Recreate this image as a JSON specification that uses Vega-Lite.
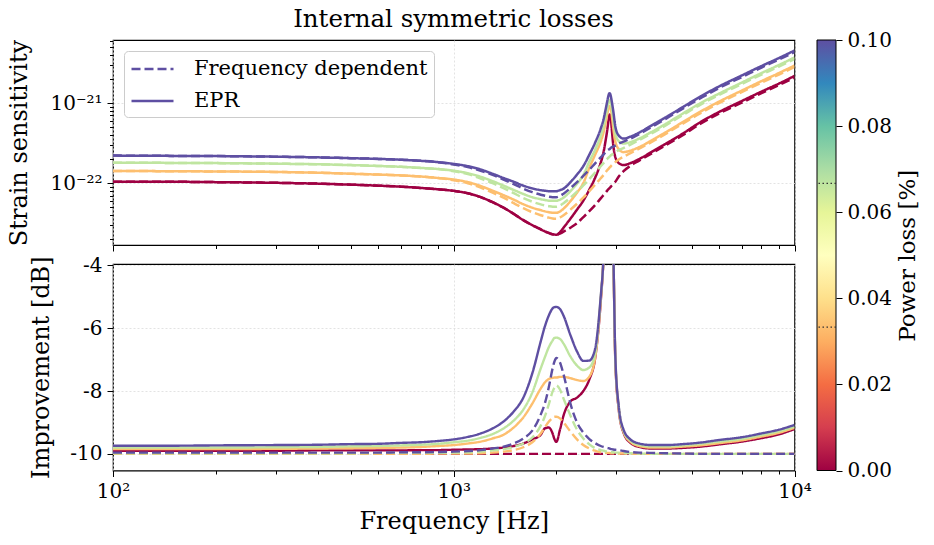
{
"$schema": "https://vega.github.io/schema/vega-lite/v6.json",
"background": "white",
"padding": {"left": 7, "top": 6, "right": 2, "bottom": 2},
"title": {"text": "Internal symmetric losses", "fontSize": 24.5, "font": "DejaVu Serif", "fontWeight": "normal", "anchor": "middle", "offset": -2, "dx": -10, "color": "#000"},
"config": {
  "font": "DejaVu Serif",
  "view": {"stroke": "#000", "strokeWidth": 1.2},
  "axis": {"labelFont": "DejaVu Serif", "titleFont": "DejaVu Serif", "labelFontSize": 20, "titleFontSize": 24, "titleFontWeight": "normal", "labelColor": "#000", "titleColor": "#000", "tickColor": "#000", "tickWidth": 1, "domain": false, "gridColor": "#dcdcdc", "gridDash": [2, 2], "gridWidth": 0.8, "labelFlush": false, "labelOverlap": false, "labelPadding": 5}
},
"datasets": {
"strain": [
{"f":100,"p":0,"FD":1.04e-22,"EPR":1.04e-22},{"f":150,"p":0,"FD":1.04e-22,"EPR":1.04e-22},{"f":200,"p":0,"FD":1.03e-22,"EPR":1.03e-22},{"f":300,"p":0,"FD":1.01e-22,"EPR":1.01e-22},{"f":400,"p":0,"FD":9.86e-23,"EPR":9.86e-23},{"f":500,"p":0,"FD":9.58e-23,"EPR":9.58e-23},{"f":600,"p":0,"FD":9.31e-23,"EPR":9.31e-23},{"f":700,"p":0,"FD":9.04e-23,"EPR":9.04e-23},{"f":800,"p":0,"FD":8.71e-23,"EPR":8.71e-23},{"f":900,"p":0,"FD":8.39e-23,"EPR":8.39e-23},
{"f":1000,"p":0,"FD":8.01e-23,"EPR":8.01e-23},{"f":1100,"p":0,"FD":7.48e-23,"EPR":7.48e-23},{"f":1200,"p":0,"FD":6.68e-23,"EPR":6.68e-23},{"f":1300,"p":0,"FD":5.79e-23,"EPR":5.79e-23},{"f":1400,"p":0,"FD":4.94e-23,"EPR":4.94e-23},{"f":1500,"p":0,"FD":4.13e-23,"EPR":4.13e-23},{"f":1600,"p":0,"FD":3.45e-23,"EPR":3.45e-23},{"f":1700,"p":0,"FD":2.99e-23,"EPR":2.99e-23},{"f":1800,"p":0,"FD":2.65e-23,"EPR":2.65e-23},{"f":1850,"p":0,"FD":2.50e-23,"EPR":2.50e-23},
{"f":1900,"p":0,"FD":2.39e-23,"EPR":2.39e-23},{"f":1950,"p":0,"FD":2.30e-23,"EPR":2.30e-23},{"f":1975,"p":0,"FD":2.28e-23,"EPR":2.28e-23},{"f":2000,"p":0,"FD":2.27e-23,"EPR":2.27e-23},{"f":2050,"p":0,"FD":2.34e-23,"EPR":2.44e-23},{"f":2100,"p":0,"FD":2.48e-23,"EPR":2.78e-23},{"f":2200,"p":0,"FD":2.78e-23,"EPR":3.60e-23},{"f":2300,"p":0,"FD":3.16e-23,"EPR":4.67e-23},{"f":2400,"p":0,"FD":3.76e-23,"EPR":6.04e-23},{"f":2500,"p":0,"FD":4.47e-23,"EPR":8.29e-23},
{"f":2600,"p":0,"FD":5.34e-23,"EPR":1.17e-22},{"f":2700,"p":0,"FD":6.46e-23,"EPR":1.80e-22},{"f":2750,"p":0,"FD":7.08e-23,"EPR":2.41e-22},{"f":2790,"p":0,"FD":7.61e-23,"EPR":3.40e-22},{"f":2820,"p":0,"FD":8.06e-23,"EPR":4.53e-22},{"f":2845,"p":0,"FD":8.41e-23,"EPR":6.04e-22},{"f":2865,"p":0,"FD":8.66e-23,"EPR":7.18e-22},{"f":2885,"p":0,"FD":8.96e-23,"EPR":6.98e-22},{"f":2910,"p":0,"FD":9.36e-23,"EPR":4.66e-22},{"f":2940,"p":0,"FD":9.80e-23,"EPR":2.94e-22},
{"f":2980,"p":0,"FD":1.04e-22,"EPR":2.11e-22},{"f":3050,"p":0,"FD":1.21e-22,"EPR":1.78e-22},{"f":3150,"p":0,"FD":1.41e-22,"EPR":1.68e-22},{"f":3300,"p":0,"FD":1.65e-22,"EPR":1.78e-22},{"f":3500,"p":0,"FD":1.91e-22,"EPR":2.00e-22},{"f":3800,"p":0,"FD":2.34e-22,"EPR":2.44e-22},{"f":4200,"p":0,"FD":2.99e-22,"EPR":3.12e-22},{"f":4700,"p":0,"FD":3.98e-22,"EPR":4.16e-22},{"f":5300,"p":0,"FD":5.54e-22,"EPR":5.79e-22},{"f":6000,"p":0,"FD":7.39e-22,"EPR":7.72e-22},
{"f":7000,"p":0,"FD":1.01e-21,"EPR":1.06e-21},{"f":8000,"p":0,"FD":1.33e-21,"EPR":1.39e-21},{"f":9000,"p":0,"FD":1.68e-21,"EPR":1.75e-21},{"f":10000,"p":0,"FD":2.08e-21,"EPR":2.18e-21},
{"f":100,"p":0.0333,"FD":1.42e-22,"EPR":1.42e-22},{"f":150,"p":0.0333,"FD":1.41e-22,"EPR":1.41e-22},{"f":200,"p":0.0333,"FD":1.40e-22,"EPR":1.40e-22},{"f":300,"p":0.0333,"FD":1.38e-22,"EPR":1.38e-22},{"f":400,"p":0.0333,"FD":1.35e-22,"EPR":1.35e-22},{"f":500,"p":0.0333,"FD":1.31e-22,"EPR":1.31e-22},{"f":600,"p":0.0333,"FD":1.28e-22,"EPR":1.28e-22},{"f":700,"p":0.0333,"FD":1.25e-22,"EPR":1.25e-22},{"f":800,"p":0.0333,"FD":1.21e-22,"EPR":1.21e-22},{"f":900,"p":0.0333,"FD":1.16e-22,"EPR":1.16e-22},
{"f":1000,"p":0.0333,"FD":1.09e-22,"EPR":1.11e-22},{"f":1100,"p":0.0333,"FD":9.97e-23,"EPR":1.03e-22},{"f":1200,"p":0.0333,"FD":8.79e-23,"EPR":9.20e-23},{"f":1300,"p":0.0333,"FD":7.61e-23,"EPR":8.06e-23},{"f":1400,"p":0.0333,"FD":6.59e-23,"EPR":7.08e-23},{"f":1500,"p":0.0333,"FD":5.62e-23,"EPR":6.22e-23},{"f":1600,"p":0.0333,"FD":4.87e-23,"EPR":5.46e-23},{"f":1700,"p":0.0333,"FD":4.34e-23,"EPR":4.94e-23},{"f":1800,"p":0.0333,"FD":3.98e-23,"EPR":4.60e-23},{"f":1850,"p":0.0333,"FD":3.84e-23,"EPR":4.45e-23},
{"f":1900,"p":0.0333,"FD":3.71e-23,"EPR":4.34e-23},{"f":1950,"p":0.0333,"FD":3.62e-23,"EPR":4.28e-23},{"f":1975,"p":0.0333,"FD":3.60e-23,"EPR":4.28e-23},{"f":2000,"p":0.0333,"FD":3.60e-23,"EPR":4.28e-23},{"f":2050,"p":0.0333,"FD":3.73e-23,"EPR":4.43e-23},{"f":2100,"p":0.0333,"FD":3.98e-23,"EPR":4.80e-23},{"f":2200,"p":0.0333,"FD":4.67e-23,"EPR":5.96e-23},{"f":2300,"p":0.0333,"FD":5.54e-23,"EPR":7.61e-23},{"f":2400,"p":0.0333,"FD":6.59e-23,"EPR":1.00e-22},{"f":2500,"p":0.0333,"FD":7.94e-23,"EPR":1.56e-22},
{"f":2600,"p":0.0333,"FD":9.58e-23,"EPR":2.27e-22},{"f":2700,"p":0.0333,"FD":1.15e-22,"EPR":3.30e-22},{"f":2750,"p":0.0333,"FD":1.26e-22,"EPR":4.28e-22},{"f":2790,"p":0.0333,"FD":1.37e-22,"EPR":5.70e-22},{"f":2820,"p":0.0333,"FD":1.45e-22,"EPR":7.18e-22},{"f":2845,"p":0.0333,"FD":1.51e-22,"EPR":8.54e-22},{"f":2865,"p":0.0333,"FD":1.56e-22,"EPR":9.17e-22},{"f":2885,"p":0.0333,"FD":1.61e-22,"EPR":8.78e-22},{"f":2910,"p":0.0333,"FD":1.68e-22,"EPR":6.98e-22},{"f":2940,"p":0.0333,"FD":1.73e-22,"EPR":4.80e-22},
{"f":2980,"p":0.0333,"FD":1.83e-22,"EPR":3.30e-22},{"f":3050,"p":0.0333,"FD":1.97e-22,"EPR":2.66e-22},{"f":3150,"p":0.0333,"FD":2.14e-22,"EPR":2.44e-22},{"f":3300,"p":0.0333,"FD":2.37e-22,"EPR":2.55e-22},{"f":3500,"p":0.0333,"FD":2.70e-22,"EPR":2.82e-22},{"f":3800,"p":0.0333,"FD":3.25e-22,"EPR":3.40e-22},{"f":4200,"p":0.0333,"FD":4.16e-22,"EPR":4.34e-22},{"f":4700,"p":0.0333,"FD":5.54e-22,"EPR":5.79e-22},{"f":5300,"p":0.0333,"FD":7.50e-22,"EPR":7.83e-22},{"f":6000,"p":0.0333,"FD":1.00e-21,"EPR":1.04e-21},
{"f":7000,"p":0.0333,"FD":1.37e-21,"EPR":1.43e-21},{"f":8000,"p":0.0333,"FD":1.80e-21,"EPR":1.88e-21},{"f":9000,"p":0.0333,"FD":2.27e-21,"EPR":2.37e-21},{"f":10000,"p":0.0333,"FD":2.82e-21,"EPR":2.94e-21},
{"f":100,"p":0.0667,"FD":1.80e-22,"EPR":1.80e-22},{"f":150,"p":0.0667,"FD":1.79e-22,"EPR":1.79e-22},{"f":200,"p":0.0667,"FD":1.78e-22,"EPR":1.78e-22},{"f":300,"p":0.0667,"FD":1.75e-22,"EPR":1.75e-22},{"f":400,"p":0.0667,"FD":1.72e-22,"EPR":1.72e-22},{"f":500,"p":0.0667,"FD":1.68e-22,"EPR":1.68e-22},{"f":600,"p":0.0667,"FD":1.64e-22,"EPR":1.64e-22},{"f":700,"p":0.0667,"FD":1.60e-22,"EPR":1.60e-22},{"f":800,"p":0.0667,"FD":1.55e-22,"EPR":1.55e-22},{"f":900,"p":0.0667,"FD":1.50e-22,"EPR":1.50e-22},
{"f":1000,"p":0.0667,"FD":1.41e-22,"EPR":1.43e-22},{"f":1100,"p":0.0667,"FD":1.30e-22,"EPR":1.33e-22},{"f":1200,"p":0.0667,"FD":1.14e-22,"EPR":1.20e-22},{"f":1300,"p":0.0667,"FD":1.00e-22,"EPR":1.06e-22},{"f":1400,"p":0.0667,"FD":8.66e-23,"EPR":9.31e-23},{"f":1500,"p":0.0667,"FD":7.50e-23,"EPR":8.22e-23},{"f":1600,"p":0.0667,"FD":6.53e-23,"EPR":7.33e-23},{"f":1700,"p":0.0667,"FD":5.87e-23,"EPR":6.68e-23},{"f":1800,"p":0.0667,"FD":5.43e-23,"EPR":6.31e-23},{"f":1850,"p":0.0667,"FD":5.28e-23,"EPR":6.17e-23},
{"f":1900,"p":0.0667,"FD":5.16e-23,"EPR":6.04e-23},{"f":1950,"p":0.0667,"FD":5.08e-23,"EPR":6.01e-23},{"f":1975,"p":0.0667,"FD":5.08e-23,"EPR":6.03e-23},{"f":2000,"p":0.0667,"FD":5.08e-23,"EPR":6.04e-23},{"f":2050,"p":0.0667,"FD":5.26e-23,"EPR":6.22e-23},{"f":2100,"p":0.0667,"FD":5.62e-23,"EPR":6.59e-23},{"f":2200,"p":0.0667,"FD":6.59e-23,"EPR":7.94e-23},{"f":2300,"p":0.0667,"FD":7.83e-23,"EPR":9.86e-23},{"f":2400,"p":0.0667,"FD":9.36e-23,"EPR":1.26e-22},{"f":2500,"p":0.0667,"FD":1.13e-22,"EPR":1.86e-22},
{"f":2600,"p":0.0667,"FD":1.36e-22,"EPR":2.62e-22},{"f":2700,"p":0.0667,"FD":1.63e-22,"EPR":3.92e-22},{"f":2750,"p":0.0667,"FD":1.78e-22,"EPR":5.08e-22},{"f":2790,"p":0.0667,"FD":1.91e-22,"EPR":6.78e-22},{"f":2820,"p":0.0667,"FD":2.00e-22,"EPR":8.54e-22},{"f":2845,"p":0.0667,"FD":2.08e-22,"EPR":1.01e-21},{"f":2865,"p":0.0667,"FD":2.14e-22,"EPR":1.09e-21},{"f":2885,"p":0.0667,"FD":2.21e-22,"EPR":1.04e-21},{"f":2910,"p":0.0667,"FD":2.27e-22,"EPR":8.54e-22},{"f":2940,"p":0.0667,"FD":2.34e-22,"EPR":6.22e-22},
{"f":2980,"p":0.0667,"FD":2.44e-22,"EPR":4.16e-22},{"f":3050,"p":0.0667,"FD":2.59e-22,"EPR":3.35e-22},{"f":3150,"p":0.0667,"FD":2.74e-22,"EPR":3.12e-22},{"f":3300,"p":0.0667,"FD":3.03e-22,"EPR":3.25e-22},{"f":3500,"p":0.0667,"FD":3.45e-22,"EPR":3.60e-22},{"f":3800,"p":0.0667,"FD":4.16e-22,"EPR":4.34e-22},{"f":4200,"p":0.0667,"FD":5.31e-22,"EPR":5.54e-22},{"f":4700,"p":0.0667,"FD":7.08e-22,"EPR":7.39e-22},{"f":5300,"p":0.0667,"FD":9.58e-22,"EPR":1.00e-21},{"f":6000,"p":0.0667,"FD":1.26e-21,"EPR":1.31e-21},
{"f":7000,"p":0.0667,"FD":1.73e-21,"EPR":1.80e-21},{"f":8000,"p":0.0667,"FD":2.27e-21,"EPR":2.37e-21},{"f":9000,"p":0.0667,"FD":2.86e-21,"EPR":2.99e-21},{"f":10000,"p":0.0667,"FD":3.55e-21,"EPR":3.71e-21},
{"f":100,"p":0.1,"FD":2.21e-22,"EPR":2.21e-22},{"f":150,"p":0.1,"FD":2.19e-22,"EPR":2.19e-22},{"f":200,"p":0.1,"FD":2.18e-22,"EPR":2.18e-22},{"f":300,"p":0.1,"FD":2.14e-22,"EPR":2.14e-22},{"f":400,"p":0.1,"FD":2.10e-22,"EPR":2.10e-22},{"f":500,"p":0.1,"FD":2.05e-22,"EPR":2.05e-22},{"f":600,"p":0.1,"FD":2.01e-22,"EPR":2.01e-22},{"f":700,"p":0.1,"FD":1.96e-22,"EPR":1.96e-22},{"f":800,"p":0.1,"FD":1.90e-22,"EPR":1.90e-22},{"f":900,"p":0.1,"FD":1.83e-22,"EPR":1.83e-22},
{"f":1000,"p":0.1,"FD":1.71e-22,"EPR":1.74e-22},{"f":1100,"p":0.1,"FD":1.59e-22,"EPR":1.63e-22},{"f":1200,"p":0.1,"FD":1.43e-22,"EPR":1.48e-22},{"f":1300,"p":0.1,"FD":1.27e-22,"EPR":1.31e-22},{"f":1400,"p":0.1,"FD":1.11e-22,"EPR":1.16e-22},{"f":1500,"p":0.1,"FD":9.72e-23,"EPR":1.04e-22},{"f":1600,"p":0.1,"FD":8.54e-23,"EPR":9.31e-23},{"f":1700,"p":0.1,"FD":7.72e-23,"EPR":8.61e-23},{"f":1800,"p":0.1,"FD":7.18e-23,"EPR":8.18e-23},{"f":1850,"p":0.1,"FD":6.98e-23,"EPR":8.06e-23},
{"f":1900,"p":0.1,"FD":6.78e-23,"EPR":7.94e-23},{"f":1950,"p":0.1,"FD":6.68e-23,"EPR":7.90e-23},{"f":1975,"p":0.1,"FD":6.68e-23,"EPR":7.92e-23},{"f":2000,"p":0.1,"FD":6.68e-23,"EPR":7.94e-23},{"f":2050,"p":0.1,"FD":6.92e-23,"EPR":8.18e-23},{"f":2100,"p":0.1,"FD":7.39e-23,"EPR":8.54e-23},{"f":2200,"p":0.1,"FD":8.66e-23,"EPR":1.03e-22},{"f":2300,"p":0.1,"FD":1.03e-22,"EPR":1.28e-22},{"f":2400,"p":0.1,"FD":1.23e-22,"EPR":1.63e-22},{"f":2500,"p":0.1,"FD":1.47e-22,"EPR":2.27e-22},
{"f":2600,"p":0.1,"FD":1.77e-22,"EPR":3.21e-22},{"f":2700,"p":0.1,"FD":2.10e-22,"EPR":4.80e-22},{"f":2750,"p":0.1,"FD":2.27e-22,"EPR":6.22e-22},{"f":2790,"p":0.1,"FD":2.44e-22,"EPR":8.29e-22},{"f":2820,"p":0.1,"FD":2.55e-22,"EPR":1.04e-21},{"f":2845,"p":0.1,"FD":2.62e-22,"EPR":1.24e-21},{"f":2865,"p":0.1,"FD":2.66e-22,"EPR":1.33e-21},{"f":2885,"p":0.1,"FD":2.74e-22,"EPR":1.26e-21},{"f":2910,"p":0.1,"FD":2.82e-22,"EPR":1.04e-21},{"f":2940,"p":0.1,"FD":2.86e-22,"EPR":7.83e-22},
{"f":2980,"p":0.1,"FD":2.94e-22,"EPR":5.08e-22},{"f":3050,"p":0.1,"FD":3.12e-22,"EPR":3.92e-22},{"f":3150,"p":0.1,"FD":3.30e-22,"EPR":3.60e-22},{"f":3300,"p":0.1,"FD":3.60e-22,"EPR":3.81e-22},{"f":3500,"p":0.1,"FD":4.10e-22,"EPR":4.28e-22},{"f":3800,"p":0.1,"FD":5.01e-22,"EPR":5.23e-22},{"f":4200,"p":0.1,"FD":6.40e-22,"EPR":6.68e-22},{"f":4700,"p":0.1,"FD":8.54e-22,"EPR":8.91e-22},{"f":5300,"p":0.1,"FD":1.15e-21,"EPR":1.21e-21},{"f":6000,"p":0.1,"FD":1.54e-21,"EPR":1.61e-21},
{"f":7000,"p":0.1,"FD":2.11e-21,"EPR":2.21e-21},{"f":8000,"p":0.1,"FD":2.78e-21,"EPR":2.90e-21},{"f":9000,"p":0.1,"FD":3.50e-21,"EPR":3.65e-21},{"f":10000,"p":0.1,"FD":4.34e-21,"EPR":4.53e-21}
],
"impr": [
{"f":100,"p":0,"FD":-10,"EPR":-9.90},{"f":150,"p":0,"FD":-10,"EPR":-9.90},{"f":200,"p":0,"FD":-10,"EPR":-9.90},{"f":300,"p":0,"FD":-10,"EPR":-9.90},{"f":400,"p":0,"FD":-10,"EPR":-9.89},{"f":500,"p":0,"FD":-10,"EPR":-9.89},{"f":600,"p":0,"FD":-10,"EPR":-9.89},{"f":700,"p":0,"FD":-10,"EPR":-9.89},{"f":800,"p":0,"FD":-10,"EPR":-9.88},{"f":900,"p":0,"FD":-10,"EPR":-9.88},
{"f":1000,"p":0,"FD":-10,"EPR":-9.87},{"f":1100,"p":0,"FD":-10,"EPR":-9.86},{"f":1200,"p":0,"FD":-10,"EPR":-9.85},{"f":1300,"p":0,"FD":-10,"EPR":-9.83},{"f":1400,"p":0,"FD":-10,"EPR":-9.80},{"f":1500,"p":0,"FD":-10,"EPR":-9.75},{"f":1600,"p":0,"FD":-10,"EPR":-9.67},{"f":1700,"p":0,"FD":-10,"EPR":-9.54},{"f":1800,"p":0,"FD":-10,"EPR":-9.39},{"f":1850,"p":0,"FD":-10,"EPR":-9.19},
{"f":1900,"p":0,"FD":-10,"EPR":-9.16},{"f":1950,"p":0,"FD":-10,"EPR":-9.35},{"f":1975,"p":0,"FD":-10,"EPR":-9.53},{"f":2000,"p":0,"FD":-10,"EPR":-9.62},{"f":2050,"p":0,"FD":-10,"EPR":-9.23},{"f":2100,"p":0,"FD":-10,"EPR":-8.78},{"f":2200,"p":0,"FD":-10,"EPR":-8.33},{"f":2300,"p":0,"FD":-10,"EPR":-8.21},{"f":2400,"p":0,"FD":-10,"EPR":-8.00},{"f":2500,"p":0,"FD":-10,"EPR":-7.63},
{"f":2600,"p":0,"FD":-10,"EPR":-6.95},{"f":2700,"p":0,"FD":-10,"EPR":-5.15},{"f":2750,"p":0,"FD":-10,"EPR":-3.8},{"f":2790,"p":0,"FD":-10,"EPR":-2.0},{"f":2820,"p":0,"FD":-10,"EPR":-0.5},{"f":2845,"p":0,"FD":-10,"EPR":1.0},{"f":2865,"p":0,"FD":-10,"EPR":1.5},{"f":2885,"p":0,"FD":-10,"EPR":1.0},{"f":2910,"p":0,"FD":-10,"EPR":-1.0},{"f":2940,"p":0,"FD":-10,"EPR":-3.5},
{"f":2980,"p":0,"FD":-10,"EPR":-7.05},{"f":3050,"p":0,"FD":-10,"EPR":-8.60},{"f":3150,"p":0,"FD":-10,"EPR":-9.33},{"f":3300,"p":0,"FD":-10,"EPR":-9.65},{"f":3500,"p":0,"FD":-10,"EPR":-9.78},{"f":3800,"p":0,"FD":-10,"EPR":-9.83},{"f":4200,"p":0,"FD":-10,"EPR":-9.83},{"f":4700,"p":0,"FD":-10,"EPR":-9.81},{"f":5300,"p":0,"FD":-10,"EPR":-9.77},{"f":6000,"p":0,"FD":-10,"EPR":-9.70},
{"f":7000,"p":0,"FD":-10,"EPR":-9.61},{"f":8000,"p":0,"FD":-10,"EPR":-9.50},{"f":9000,"p":0,"FD":-10,"EPR":-9.38},{"f":10000,"p":0,"FD":-10,"EPR":-9.21},
{"f":100,"p":0.0333,"FD":-10,"EPR":-9.85},{"f":150,"p":0.0333,"FD":-10,"EPR":-9.85},{"f":200,"p":0.0333,"FD":-10,"EPR":-9.85},{"f":300,"p":0.0333,"FD":-10,"EPR":-9.84},{"f":400,"p":0.0333,"FD":-10,"EPR":-9.83},{"f":500,"p":0.0333,"FD":-10,"EPR":-9.82},{"f":600,"p":0.0333,"FD":-10,"EPR":-9.81},{"f":700,"p":0.0333,"FD":-10,"EPR":-9.80},{"f":800,"p":0.0333,"FD":-10,"EPR":-9.78},{"f":900,"p":0.0333,"FD":-9.99,"EPR":-9.75},
{"f":1000,"p":0.0333,"FD":-9.99,"EPR":-9.72},{"f":1100,"p":0.0333,"FD":-9.99,"EPR":-9.67},{"f":1200,"p":0.0333,"FD":-9.98,"EPR":-9.61},{"f":1300,"p":0.0333,"FD":-9.96,"EPR":-9.51},{"f":1400,"p":0.0333,"FD":-9.93,"EPR":-9.39},{"f":1500,"p":0.0333,"FD":-9.88,"EPR":-9.16},{"f":1600,"p":0.0333,"FD":-9.79,"EPR":-8.84},{"f":1700,"p":0.0333,"FD":-9.63,"EPR":-8.40},{"f":1800,"p":0.0333,"FD":-9.35,"EPR":-7.92},{"f":1850,"p":0.0333,"FD":-9.16,"EPR":-7.73},
{"f":1900,"p":0.0333,"FD":-8.98,"EPR":-7.62},{"f":1950,"p":0.0333,"FD":-8.86,"EPR":-7.58},{"f":1975,"p":0.0333,"FD":-8.82,"EPR":-7.57},{"f":2000,"p":0.0333,"FD":-8.82,"EPR":-7.57},{"f":2050,"p":0.0333,"FD":-8.87,"EPR":-7.55},{"f":2100,"p":0.0333,"FD":-9.00,"EPR":-7.55},{"f":2200,"p":0.0333,"FD":-9.29,"EPR":-7.59},{"f":2300,"p":0.0333,"FD":-9.54,"EPR":-7.65},{"f":2400,"p":0.0333,"FD":-9.72,"EPR":-7.68},{"f":2500,"p":0.0333,"FD":-9.83,"EPR":-7.54},
{"f":2600,"p":0.0333,"FD":-9.90,"EPR":-6.93},{"f":2700,"p":0.0333,"FD":-9.95,"EPR":-5.09},{"f":2750,"p":0.0333,"FD":-9.96,"EPR":-3.8},{"f":2790,"p":0.0333,"FD":-9.97,"EPR":-2.0},{"f":2820,"p":0.0333,"FD":-9.97,"EPR":-0.5},{"f":2845,"p":0.0333,"FD":-9.97,"EPR":1.0},{"f":2865,"p":0.0333,"FD":-9.97,"EPR":1.5},{"f":2885,"p":0.0333,"FD":-9.98,"EPR":1.0},{"f":2910,"p":0.0333,"FD":-9.98,"EPR":-1.0},{"f":2940,"p":0.0333,"FD":-9.98,"EPR":-3.5},
{"f":2980,"p":0.0333,"FD":-9.98,"EPR":-7.0},{"f":3050,"p":0.0333,"FD":-9.99,"EPR":-8.56},{"f":3150,"p":0.0333,"FD":-9.99,"EPR":-9.30},{"f":3300,"p":0.0333,"FD":-10,"EPR":-9.62},{"f":3500,"p":0.0333,"FD":-10,"EPR":-9.75},{"f":3800,"p":0.0333,"FD":-10,"EPR":-9.80},{"f":4200,"p":0.0333,"FD":-10,"EPR":-9.80},{"f":4700,"p":0.0333,"FD":-10,"EPR":-9.77},{"f":5300,"p":0.0333,"FD":-10,"EPR":-9.73},{"f":6000,"p":0.0333,"FD":-10,"EPR":-9.66},
{"f":7000,"p":0.0333,"FD":-10,"EPR":-9.57},{"f":8000,"p":0.0333,"FD":-10,"EPR":-9.45},{"f":9000,"p":0.0333,"FD":-10,"EPR":-9.33},{"f":10000,"p":0.0333,"FD":-10,"EPR":-9.17},
{"f":100,"p":0.0667,"FD":-9.98,"EPR":-9.80},{"f":150,"p":0.0667,"FD":-9.98,"EPR":-9.80},{"f":200,"p":0.0667,"FD":-9.98,"EPR":-9.80},{"f":300,"p":0.0667,"FD":-9.98,"EPR":-9.79},{"f":400,"p":0.0667,"FD":-9.98,"EPR":-9.78},{"f":500,"p":0.0667,"FD":-9.98,"EPR":-9.76},{"f":600,"p":0.0667,"FD":-9.97,"EPR":-9.75},{"f":700,"p":0.0667,"FD":-9.97,"EPR":-9.73},{"f":800,"p":0.0667,"FD":-9.97,"EPR":-9.71},{"f":900,"p":0.0667,"FD":-9.97,"EPR":-9.68},
{"f":1000,"p":0.0667,"FD":-9.96,"EPR":-9.63},{"f":1100,"p":0.0667,"FD":-9.95,"EPR":-9.58},{"f":1200,"p":0.0667,"FD":-9.93,"EPR":-9.49},{"f":1300,"p":0.0667,"FD":-9.89,"EPR":-9.37},{"f":1400,"p":0.0667,"FD":-9.85,"EPR":-9.19},{"f":1500,"p":0.0667,"FD":-9.78,"EPR":-8.94},{"f":1600,"p":0.0667,"FD":-9.67,"EPR":-8.59},{"f":1700,"p":0.0667,"FD":-9.48,"EPR":-8.05},{"f":1800,"p":0.0667,"FD":-9.10,"EPR":-7.28},{"f":1850,"p":0.0667,"FD":-8.81,"EPR":-6.93},
{"f":1900,"p":0.0667,"FD":-8.43,"EPR":-6.61},{"f":1950,"p":0.0667,"FD":-8.02,"EPR":-6.39},{"f":1975,"p":0.0667,"FD":-7.89,"EPR":-6.31},{"f":2000,"p":0.0667,"FD":-7.82,"EPR":-6.30},{"f":2050,"p":0.0667,"FD":-7.95,"EPR":-6.34},{"f":2100,"p":0.0667,"FD":-8.24,"EPR":-6.49},{"f":2200,"p":0.0667,"FD":-8.78,"EPR":-6.90},{"f":2300,"p":0.0667,"FD":-9.23,"EPR":-7.19},{"f":2400,"p":0.0667,"FD":-9.51,"EPR":-7.33},{"f":2500,"p":0.0667,"FD":-9.70,"EPR":-7.25},
{"f":2600,"p":0.0667,"FD":-9.82,"EPR":-6.81},{"f":2700,"p":0.0667,"FD":-9.88,"EPR":-5.02},{"f":2750,"p":0.0667,"FD":-9.90,"EPR":-3.8},{"f":2790,"p":0.0667,"FD":-9.92,"EPR":-2.0},{"f":2820,"p":0.0667,"FD":-9.93,"EPR":-0.5},{"f":2845,"p":0.0667,"FD":-9.94,"EPR":1.0},{"f":2865,"p":0.0667,"FD":-9.94,"EPR":1.5},{"f":2885,"p":0.0667,"FD":-9.95,"EPR":1.0},{"f":2910,"p":0.0667,"FD":-9.95,"EPR":-1.0},{"f":2940,"p":0.0667,"FD":-9.95,"EPR":-3.5},
{"f":2980,"p":0.0667,"FD":-9.96,"EPR":-6.95},{"f":3050,"p":0.0667,"FD":-9.96,"EPR":-8.52},{"f":3150,"p":0.0667,"FD":-9.97,"EPR":-9.27},{"f":3300,"p":0.0667,"FD":-9.98,"EPR":-9.58},{"f":3500,"p":0.0667,"FD":-9.99,"EPR":-9.71},{"f":3800,"p":0.0667,"FD":-10,"EPR":-9.76},{"f":4200,"p":0.0667,"FD":-10,"EPR":-9.76},{"f":4700,"p":0.0667,"FD":-10,"EPR":-9.73},{"f":5300,"p":0.0667,"FD":-10,"EPR":-9.68},{"f":6000,"p":0.0667,"FD":-10,"EPR":-9.61},
{"f":7000,"p":0.0667,"FD":-10,"EPR":-9.52},{"f":8000,"p":0.0667,"FD":-10,"EPR":-9.40},{"f":9000,"p":0.0667,"FD":-10,"EPR":-9.28},{"f":10000,"p":0.0667,"FD":-10,"EPR":-9.13},
{"f":100,"p":0.1,"FD":-9.96,"EPR":-9.74},{"f":150,"p":0.1,"FD":-9.96,"EPR":-9.74},{"f":200,"p":0.1,"FD":-9.96,"EPR":-9.73},{"f":300,"p":0.1,"FD":-9.96,"EPR":-9.72},{"f":400,"p":0.1,"FD":-9.96,"EPR":-9.71},{"f":500,"p":0.1,"FD":-9.96,"EPR":-9.69},{"f":600,"p":0.1,"FD":-9.96,"EPR":-9.68},{"f":700,"p":0.1,"FD":-9.95,"EPR":-9.65},{"f":800,"p":0.1,"FD":-9.95,"EPR":-9.63},{"f":900,"p":0.1,"FD":-9.94,"EPR":-9.59},
{"f":1000,"p":0.1,"FD":-9.93,"EPR":-9.54},{"f":1100,"p":0.1,"FD":-9.91,"EPR":-9.46},{"f":1200,"p":0.1,"FD":-9.88,"EPR":-9.35},{"f":1300,"p":0.1,"FD":-9.83,"EPR":-9.19},{"f":1400,"p":0.1,"FD":-9.77,"EPR":-8.97},{"f":1500,"p":0.1,"FD":-9.67,"EPR":-8.65},{"f":1600,"p":0.1,"FD":-9.51,"EPR":-8.21},{"f":1700,"p":0.1,"FD":-9.26,"EPR":-7.44},{"f":1800,"p":0.1,"FD":-8.75,"EPR":-6.42},{"f":1850,"p":0.1,"FD":-8.40,"EPR":-5.95},
{"f":1900,"p":0.1,"FD":-7.89,"EPR":-5.60},{"f":1950,"p":0.1,"FD":-7.28,"EPR":-5.37},{"f":1975,"p":0.1,"FD":-7.06,"EPR":-5.33},{"f":2000,"p":0.1,"FD":-6.95,"EPR":-5.32},{"f":2050,"p":0.1,"FD":-7.09,"EPR":-5.39},{"f":2100,"p":0.1,"FD":-7.47,"EPR":-5.60},{"f":2200,"p":0.1,"FD":-8.40,"EPR":-6.22},{"f":2300,"p":0.1,"FD":-9.00,"EPR":-6.74},{"f":2400,"p":0.1,"FD":-9.32,"EPR":-7.04},{"f":2500,"p":0.1,"FD":-9.53,"EPR":-7.03},
{"f":2600,"p":0.1,"FD":-9.66,"EPR":-6.65},{"f":2700,"p":0.1,"FD":-9.75,"EPR":-4.99},{"f":2750,"p":0.1,"FD":-9.78,"EPR":-3.8},{"f":2790,"p":0.1,"FD":-9.80,"EPR":-2.0},{"f":2820,"p":0.1,"FD":-9.81,"EPR":-0.5},{"f":2845,"p":0.1,"FD":-9.82,"EPR":1.0},{"f":2865,"p":0.1,"FD":-9.83,"EPR":1.5},{"f":2885,"p":0.1,"FD":-9.84,"EPR":1.0},{"f":2910,"p":0.1,"FD":-9.85,"EPR":-1.0},{"f":2940,"p":0.1,"FD":-9.86,"EPR":-3.5},
{"f":2980,"p":0.1,"FD":-9.87,"EPR":-6.9},{"f":3050,"p":0.1,"FD":-9.88,"EPR":-8.49},{"f":3150,"p":0.1,"FD":-9.91,"EPR":-9.23},{"f":3300,"p":0.1,"FD":-9.94,"EPR":-9.54},{"f":3500,"p":0.1,"FD":-9.96,"EPR":-9.67},{"f":3800,"p":0.1,"FD":-9.97,"EPR":-9.72},{"f":4200,"p":0.1,"FD":-9.98,"EPR":-9.72},{"f":4700,"p":0.1,"FD":-9.99,"EPR":-9.69},{"f":5300,"p":0.1,"FD":-10,"EPR":-9.64},{"f":6000,"p":0.1,"FD":-10,"EPR":-9.56},
{"f":7000,"p":0.1,"FD":-10,"EPR":-9.47},{"f":8000,"p":0.1,"FD":-10,"EPR":-9.35},{"f":9000,"p":0.1,"FD":-10,"EPR":-9.23},{"f":10000,"p":0.1,"FD":-10,"EPR":-9.08}
]
},
"spacing": 4,
"hconcat": [
{
  "vconcat": [
    {
      "width": 681.5, "height": 205,
      "data": {"name": "strain"},
      "transform": [{"fold": ["FD", "EPR"], "as": ["t", "v"]}],
      "mark": {"type": "line", "interpolate": "monotone", "strokeWidth": 2.5, "clip": true},
      "encoding": {
        "x": {"field": "f", "type": "quantitative", "scale": {"type": "log", "domain": [100, 10000], "nice": false},
          "axis": {"values": [100,200,300,400,500,600,700,800,900,1000,2000,3000,4000,5000,6000,7000,8000,9000,10000], "labels": false, "title": null, "grid": true,
            "gridOpacity": {"condition": {"test": "abs(log(datum.value)/LN10 - round(log(datum.value)/LN10)) < 0.001", "value": 1}, "value": 0},
            "tickSize": {"condition": {"test": "abs(log(datum.value)/LN10 - round(log(datum.value)/LN10)) < 0.001", "value": 6}, "value": 3.5}}},
        "y": {"field": "v", "type": "quantitative", "scale": {"type": "log", "domain": [1.69e-23, 6.13e-21], "nice": false},
          "axis": {"values": [2e-23,3e-23,4e-23,5e-23,6e-23,7e-23,8e-23,9e-23,1e-22,2e-22,3e-22,4e-22,5e-22,6e-22,7e-22,8e-22,9e-22,1e-21,2e-21,3e-21,4e-21,5e-21,6e-21],
            "labelExpr": "abs(log(datum.value)/LN10 + 21) < 0.001 ? '10⁻²¹' : (abs(log(datum.value)/LN10 + 22) < 0.001 ? '10⁻²²' : '')",
            "title": "Strain sensitivity", "titlePadding": 18, "grid": true,
            "gridOpacity": {"condition": {"test": "abs(log(datum.value)/LN10 - round(log(datum.value)/LN10)) < 0.001", "value": 1}, "value": 0},
            "tickSize": {"condition": {"test": "abs(log(datum.value)/LN10 - round(log(datum.value)/LN10)) < 0.001", "value": 6}, "value": 3.5}}},
        "color": {"field": "p", "type": "ordinal", "scale": {"domain": [0, 0.0333, 0.0667, 0.1], "range": ["#9e0142", "#fdbf6f", "#bfe5a0", "#5e4fa2"]}, "legend": null},
        "strokeDash": {"field": "t", "type": "nominal", "scale": {"domain": ["FD", "EPR"], "range": [[9, 4], [1, 0]]},
          "legend": {"orient": "top-left", "offset": 11, "title": null, "fillColor": "white", "strokeColor": "#cccccc", "cornerRadius": 4, "padding": 6,
            "symbolType": "M-1,0H3", "symbolSize": 441, "symbolStrokeColor": "#5e4fa2", "symbolFillColor": "transparent", "symbolStrokeWidth": 2.5,
            "labelFont": "DejaVu Serif", "labelFontSize": 21, "labelColor": "#000", "labelOffset": 40, "rowPadding": 10, "labelLimit": 400,
            "labelExpr": "datum.label == 'FD' ? 'Frequency dependent' : 'EPR'"}}
      }
    },
    {
      "width": 681.5, "height": 206.5,
      "data": {"name": "impr"},
      "transform": [{"fold": ["FD", "EPR"], "as": ["t", "v"]}],
      "mark": {"type": "line", "interpolate": "monotone", "strokeWidth": 2.4, "clip": true},
      "encoding": {
        "x": {"field": "f", "type": "quantitative", "scale": {"type": "log", "domain": [100, 10000], "nice": false},
          "axis": {"values": [100,200,300,400,500,600,700,800,900,1000,2000,3000,4000,5000,6000,7000,8000,9000,10000],
            "labelExpr": "abs(log(datum.value)/LN10 - round(log(datum.value)/LN10)) < 0.001 ? ('10' + (round(log(datum.value)/LN10) == 2 ? '²' : (round(log(datum.value)/LN10) == 3 ? '³' : '⁴'))) : ''",
            "title": "Frequency [Hz]", "titlePadding": 8, "grid": true,
            "gridOpacity": {"condition": {"test": "abs(log(datum.value)/LN10 - round(log(datum.value)/LN10)) < 0.001", "value": 1}, "value": 0},
            "tickSize": {"condition": {"test": "abs(log(datum.value)/LN10 - round(log(datum.value)/LN10)) < 0.001", "value": 6}, "value": 3.5}}},
        "y": {"field": "v", "type": "quantitative", "scale": {"domain": [-10.53, -3.955], "nice": false, "zero": false},
          "axis": {"values": [-10, -8, -6, -4], "labelExpr": "'' + datum.value", "title": "Improvement [dB]", "titlePadding": 16, "grid": true, "tickSize": 6}},
        "color": {"field": "p", "type": "ordinal", "scale": {"domain": [0, 0.0333, 0.0667, 0.1], "range": ["#9e0142", "#fdbf6f", "#bfe5a0", "#5e4fa2"]}, "legend": null},
        "strokeDash": {"field": "t", "type": "nominal", "scale": {"domain": ["FD", "EPR"], "range": [[9, 4], [1, 0]]}, "legend": null}
      }
    }
  ],
  "spacing": 19,
  "bounds": "flush",
  "resolve": {"scale": {"strokeDash": "independent", "color": "independent"}, "legend": {"strokeDash": "independent", "color": "independent"}}
},
{
  "width": 19, "height": 430.5,
  "view": {"stroke": null},
  "layer": [
    {
      "data": {"values": [{"lo": 0, "hi": 0.1}]},
      "mark": {"type": "rect", "stroke": "#000", "strokeWidth": 1, "fill": {"gradient": "linear", "x1": 0, "y1": 1, "x2": 0, "y2": 0, "stops": [
        {"offset": 0, "color": "#9e0142"}, {"offset": 0.1, "color": "#d53e4f"}, {"offset": 0.2, "color": "#f46d43"}, {"offset": 0.3, "color": "#fdae61"}, {"offset": 0.4, "color": "#fee08b"}, {"offset": 0.5, "color": "#ffffbf"}, {"offset": 0.6, "color": "#e6f598"}, {"offset": 0.7, "color": "#abdda4"}, {"offset": 0.8, "color": "#66c2a5"}, {"offset": 0.9, "color": "#3288bd"}, {"offset": 1, "color": "#5e4fa2"}]}},
      "encoding": {
        "y": {"field": "lo", "type": "quantitative", "scale": {"domain": [0, 0.1], "nice": false, "zero": false},
          "axis": {"orient": "right", "values": [0, 0.02, 0.04, 0.06, 0.08, 0.1], "format": ".2f", "title": "Power loss [%]", "titleFontSize": 23, "titleAngle": 270, "titleBaseline": "top", "titlePadding": 5, "grid": false, "tickSize": 6}},
        "y2": {"field": "hi"}
      }
    },
    {
      "data": {"values": [{"p": 0.0333}, {"p": 0.0667}]},
      "mark": {"type": "rule", "strokeDash": [1.5, 2.5], "color": "#333", "strokeWidth": 1.2},
      "encoding": {"y": {"field": "p", "type": "quantitative"}}
    }
  ]
}
]
}
